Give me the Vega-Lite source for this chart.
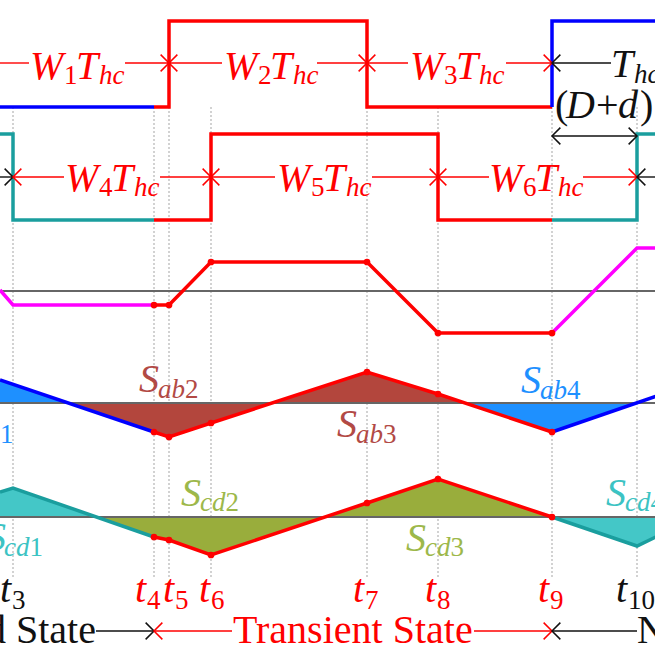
{
  "$schema": "https://vega.github.io/schema/vega-lite/v6.json",
  "width": 655,
  "height": 655,
  "autosize": {"type": "none"},
  "padding": 0,
  "background": "white",
  "config": {"view": {"stroke": null}},
  "datasets": {
    "vlines": [
      {"x": 13, "y": 107, "y2": 578, "c": "dot"},
      {"x": 154, "y": 107, "y2": 578, "c": "dot"},
      {"x": 169, "y": 107, "y2": 578, "c": "dot"},
      {"x": 211, "y": 107, "y2": 578, "c": "dot"},
      {"x": 367, "y": 107, "y2": 578, "c": "dot"},
      {"x": 438, "y": 107, "y2": 578, "c": "dot"},
      {"x": 552, "y": 107, "y2": 578, "c": "dot"},
      {"x": 637, "y": 107, "y2": 578, "c": "dot"}
    ],
    "areas": [
      {"s": "A1", "c": "dodger", "x": 0, "y": 380, "b": 403},
      {"s": "A1", "c": "dodger", "x": 68, "y": 403, "b": 403},
      {"s": "A2", "c": "brownfill", "x": 68, "y": 403, "b": 403},
      {"s": "A2", "c": "brownfill", "x": 154, "y": 432, "b": 403},
      {"s": "A2", "c": "brownfill", "x": 169, "y": 437, "b": 403},
      {"s": "A2", "c": "brownfill", "x": 211, "y": 423, "b": 403},
      {"s": "A2", "c": "brownfill", "x": 272, "y": 403, "b": 403},
      {"s": "A3", "c": "brownfill", "x": 272, "y": 403, "b": 403},
      {"s": "A3", "c": "brownfill", "x": 367, "y": 372, "b": 403},
      {"s": "A3", "c": "brownfill", "x": 438, "y": 394, "b": 403},
      {"s": "A3", "c": "brownfill", "x": 465, "y": 403, "b": 403},
      {"s": "A4", "c": "dodger", "x": 465, "y": 403, "b": 403},
      {"s": "A4", "c": "dodger", "x": 552, "y": 432, "b": 403},
      {"s": "A4", "c": "dodger", "x": 637, "y": 403, "b": 403},
      {"s": "A5", "c": "tealfill", "x": 0, "y": 492, "b": 517},
      {"s": "A5", "c": "tealfill", "x": 13, "y": 488, "b": 517},
      {"s": "A5", "c": "tealfill", "x": 97, "y": 517, "b": 517},
      {"s": "A6", "c": "olivefill", "x": 97, "y": 517, "b": 517},
      {"s": "A6", "c": "olivefill", "x": 154, "y": 537, "b": 517},
      {"s": "A6", "c": "olivefill", "x": 169, "y": 540, "b": 517},
      {"s": "A6", "c": "olivefill", "x": 211, "y": 555, "b": 517},
      {"s": "A6", "c": "olivefill", "x": 325, "y": 517, "b": 517},
      {"s": "A7", "c": "olivefill", "x": 325, "y": 517, "b": 517},
      {"s": "A7", "c": "olivefill", "x": 367, "y": 503, "b": 517},
      {"s": "A7", "c": "olivefill", "x": 438, "y": 479, "b": 517},
      {"s": "A7", "c": "olivefill", "x": 552, "y": 517, "b": 517},
      {"s": "A8", "c": "tealfill", "x": 552, "y": 517, "b": 517},
      {"s": "A8", "c": "tealfill", "x": 637, "y": 546, "b": 517},
      {"s": "A8", "c": "tealfill", "x": 660, "y": 535, "b": 517}
    ],
    "axes": [
      {"x": 0, "x2": 655, "y": 291, "c": "gray"},
      {"x": 0, "x2": 655, "y": 403, "c": "gray"},
      {"x": 0, "x2": 655, "y": 517, "c": "gray"}
    ],
    "lines": [
      {"s": "1a", "c": "blue", "o": 1, "x": 0, "y": 107},
      {"s": "1a", "c": "blue", "o": 2, "x": 154, "y": 107},
      {"s": "1b", "c": "red", "o": 1, "x": 154, "y": 107},
      {"s": "1b", "c": "red", "o": 2, "x": 169, "y": 107},
      {"s": "1b", "c": "red", "o": 3, "x": 169, "y": 21},
      {"s": "1b", "c": "red", "o": 4, "x": 367, "y": 21},
      {"s": "1b", "c": "red", "o": 5, "x": 367, "y": 107},
      {"s": "1b", "c": "red", "o": 6, "x": 552, "y": 107},
      {"s": "1c", "c": "blue", "o": 1, "x": 552, "y": 107},
      {"s": "1c", "c": "blue", "o": 2, "x": 552, "y": 21},
      {"s": "1c", "c": "blue", "o": 3, "x": 660, "y": 21},
      {"s": "2a", "c": "teal", "o": 1, "x": -5, "y": 134},
      {"s": "2a", "c": "teal", "o": 2, "x": 13, "y": 134},
      {"s": "2a", "c": "teal", "o": 3, "x": 13, "y": 220},
      {"s": "2a", "c": "teal", "o": 4, "x": 154, "y": 220},
      {"s": "2b", "c": "red", "o": 1, "x": 154, "y": 220},
      {"s": "2b", "c": "red", "o": 2, "x": 211, "y": 220},
      {"s": "2b", "c": "red", "o": 3, "x": 211, "y": 134},
      {"s": "2b", "c": "red", "o": 4, "x": 438, "y": 134},
      {"s": "2b", "c": "red", "o": 5, "x": 438, "y": 220},
      {"s": "2b", "c": "red", "o": 6, "x": 552, "y": 220},
      {"s": "2c", "c": "teal", "o": 1, "x": 552, "y": 220},
      {"s": "2c", "c": "teal", "o": 2, "x": 637, "y": 220},
      {"s": "2c", "c": "teal", "o": 3, "x": 637, "y": 134},
      {"s": "2c", "c": "teal", "o": 4, "x": 660, "y": 134},
      {"s": "3a", "c": "magenta", "o": 1, "x": 0, "y": 290},
      {"s": "3a", "c": "magenta", "o": 2, "x": 13, "y": 305},
      {"s": "3a", "c": "magenta", "o": 3, "x": 154, "y": 305},
      {"s": "3b", "c": "red", "o": 1, "x": 154, "y": 305},
      {"s": "3b", "c": "red", "o": 2, "x": 169, "y": 305},
      {"s": "3b", "c": "red", "o": 3, "x": 211, "y": 262},
      {"s": "3b", "c": "red", "o": 4, "x": 367, "y": 262},
      {"s": "3b", "c": "red", "o": 5, "x": 438, "y": 333},
      {"s": "3b", "c": "red", "o": 6, "x": 552, "y": 333},
      {"s": "3c", "c": "magenta", "o": 1, "x": 552, "y": 333},
      {"s": "3c", "c": "magenta", "o": 2, "x": 637, "y": 248},
      {"s": "3c", "c": "magenta", "o": 3, "x": 660, "y": 248},
      {"s": "4a", "c": "blue", "o": 1, "x": 0, "y": 380},
      {"s": "4a", "c": "blue", "o": 2, "x": 154, "y": 432},
      {"s": "4b", "c": "red", "o": 1, "x": 154, "y": 432},
      {"s": "4b", "c": "red", "o": 2, "x": 169, "y": 437},
      {"s": "4b", "c": "red", "o": 3, "x": 211, "y": 423},
      {"s": "4b", "c": "red", "o": 4, "x": 367, "y": 372},
      {"s": "4b", "c": "red", "o": 5, "x": 438, "y": 394},
      {"s": "4b", "c": "red", "o": 6, "x": 552, "y": 432},
      {"s": "4c", "c": "blue", "o": 1, "x": 552, "y": 432},
      {"s": "4c", "c": "blue", "o": 2, "x": 660, "y": 395},
      {"s": "5a", "c": "teal", "o": 1, "x": 0, "y": 492},
      {"s": "5a", "c": "teal", "o": 2, "x": 13, "y": 488},
      {"s": "5a", "c": "teal", "o": 3, "x": 154, "y": 537},
      {"s": "5b", "c": "red", "o": 1, "x": 154, "y": 537},
      {"s": "5b", "c": "red", "o": 2, "x": 169, "y": 540},
      {"s": "5b", "c": "red", "o": 3, "x": 211, "y": 555},
      {"s": "5b", "c": "red", "o": 4, "x": 367, "y": 503},
      {"s": "5b", "c": "red", "o": 5, "x": 438, "y": 479},
      {"s": "5b", "c": "red", "o": 6, "x": 552, "y": 517},
      {"s": "5c", "c": "teal", "o": 1, "x": 552, "y": 517},
      {"s": "5c", "c": "teal", "o": 2, "x": 637, "y": 546},
      {"s": "5c", "c": "teal", "o": 3, "x": 660, "y": 535}
    ],
    "dots": [
      {"x": 154, "y": 305, "c": "red"}, {"x": 169, "y": 305, "c": "red"}, {"x": 211, "y": 262, "c": "red"},
      {"x": 367, "y": 262, "c": "red"}, {"x": 438, "y": 333, "c": "red"}, {"x": 552, "y": 333, "c": "red"},
      {"x": 154, "y": 432, "c": "red"}, {"x": 169, "y": 437, "c": "red"}, {"x": 211, "y": 423, "c": "red"},
      {"x": 367, "y": 372, "c": "red"}, {"x": 438, "y": 394, "c": "red"}, {"x": 552, "y": 432, "c": "red"},
      {"x": 154, "y": 537, "c": "red"}, {"x": 169, "y": 540, "c": "red"}, {"x": 211, "y": 555, "c": "red"},
      {"x": 367, "y": 503, "c": "red"}, {"x": 438, "y": 479, "c": "red"}, {"x": 552, "y": 517, "c": "red"}
    ],
    "thin": [
      {"x": 0, "x2": 29, "y": 63, "c": "red"},
      {"x": 125, "x2": 169, "y": 63, "c": "red"},
      {"x": 169, "x2": 222, "y": 63, "c": "red"},
      {"x": 317, "x2": 367, "y": 63, "c": "red"},
      {"x": 367, "x2": 408, "y": 63, "c": "red"},
      {"x": 506, "x2": 552, "y": 63, "c": "red"},
      {"x": 552, "x2": 611, "y": 63, "c": "black"},
      {"x": 0, "x2": 13, "y": 177, "c": "black"},
      {"x": 13, "x2": 64, "y": 177, "c": "red"},
      {"x": 160, "x2": 211, "y": 177, "c": "red"},
      {"x": 211, "x2": 275, "y": 177, "c": "red"},
      {"x": 372, "x2": 438, "y": 177, "c": "red"},
      {"x": 438, "x2": 489, "y": 177, "c": "red"},
      {"x": 583, "x2": 637, "y": 177, "c": "red"},
      {"x": 637, "x2": 655, "y": 177, "c": "black"},
      {"x": 552, "x2": 637, "y": 136, "c": "black"},
      {"x": 96, "x2": 154, "y": 631, "c": "black"},
      {"x": 154, "x2": 232, "y": 631, "c": "red"},
      {"x": 474, "x2": 552, "y": 631, "c": "red"},
      {"x": 552, "x2": 637, "y": 631, "c": "black"}
    ],
    "chevrons": [
      {"x": 169, "y": 63, "c": "red", "d": "r"}, {"x": 169, "y": 63, "c": "red", "d": "l"},
      {"x": 367, "y": 63, "c": "red", "d": "r"}, {"x": 367, "y": 63, "c": "red", "d": "l"},
      {"x": 552, "y": 63, "c": "red", "d": "r"}, {"x": 552, "y": 63, "c": "black", "d": "l"},
      {"x": 13, "y": 177, "c": "black", "d": "r"}, {"x": 13, "y": 177, "c": "red", "d": "l"},
      {"x": 211, "y": 177, "c": "red", "d": "r"}, {"x": 211, "y": 177, "c": "red", "d": "l"},
      {"x": 438, "y": 177, "c": "red", "d": "r"}, {"x": 438, "y": 177, "c": "red", "d": "l"},
      {"x": 637, "y": 177, "c": "red", "d": "r"}, {"x": 637, "y": 177, "c": "black", "d": "l"},
      {"x": 552, "y": 136, "c": "black", "d": "l"}, {"x": 637, "y": 136, "c": "black", "d": "r"},
      {"x": 154, "y": 631, "c": "black", "d": "r"}, {"x": 154, "y": 631, "c": "red", "d": "l"},
      {"x": 552, "y": 631, "c": "red", "d": "r"}, {"x": 552, "y": 631, "c": "black", "d": "l"}
    ],
    "italicMain": [
      {"t": "W", "x": 30, "y": 79, "c": "red"}, {"t": "T", "x": 76, "y": 79, "c": "red"},
      {"t": "W", "x": 224, "y": 79, "c": "red"}, {"t": "T", "x": 270, "y": 79, "c": "red"},
      {"t": "W", "x": 410, "y": 79, "c": "red"}, {"t": "T", "x": 456, "y": 79, "c": "red"},
      {"t": "W", "x": 65, "y": 191, "c": "red"}, {"t": "T", "x": 111, "y": 191, "c": "red"},
      {"t": "W", "x": 277, "y": 191, "c": "red"}, {"t": "T", "x": 323, "y": 191, "c": "red"},
      {"t": "W", "x": 489, "y": 191, "c": "red"}, {"t": "T", "x": 535, "y": 191, "c": "red"},
      {"t": "T", "x": 611, "y": 77, "c": "black"},
      {"t": "D", "x": 566, "y": 118, "c": "black"}, {"t": "d", "x": 618, "y": 118, "c": "black"},
      {"t": "S", "x": 139, "y": 392, "c": "browntext"}, {"t": "S", "x": 337, "y": 437, "c": "browntext"},
      {"t": "S", "x": 521, "y": 393, "c": "dodger"}, {"t": "S", "x": -46, "y": 437, "c": "dodger"},
      {"t": "S", "x": -14, "y": 550, "c": "tealtext"}, {"t": "S", "x": 181, "y": 506, "c": "olivetext"},
      {"t": "S", "x": 406, "y": 551, "c": "olivetext"}, {"t": "S", "x": 606, "y": 506, "c": "tealtext"},
      {"t": "t", "x": 0, "y": 602, "c": "black"}, {"t": "t", "x": 135, "y": 602, "c": "red"},
      {"t": "t", "x": 163, "y": 602, "c": "red"}, {"t": "t", "x": 199, "y": 602, "c": "red"},
      {"t": "t", "x": 353, "y": 602, "c": "red"}, {"t": "t", "x": 425, "y": 602, "c": "red"},
      {"t": "t", "x": 538, "y": 602, "c": "red"}, {"t": "t", "x": 616, "y": 602, "c": "black"}
    ],
    "italicSub": [
      {"t": "hc", "x": 99, "y": 84, "c": "red"}, {"t": "hc", "x": 293, "y": 84, "c": "red"},
      {"t": "hc", "x": 479, "y": 84, "c": "red"}, {"t": "hc", "x": 134, "y": 196, "c": "red"},
      {"t": "hc", "x": 346, "y": 196, "c": "red"}, {"t": "hc", "x": 558, "y": 196, "c": "red"},
      {"t": "hc", "x": 634, "y": 83, "c": "black"},
      {"t": "ab", "x": 158, "y": 398, "c": "browntext"}, {"t": "ab", "x": 356, "y": 443, "c": "browntext"},
      {"t": "ab", "x": 540, "y": 399, "c": "dodger"}, {"t": "ab", "x": -27, "y": 443, "c": "dodger"},
      {"t": "cd", "x": 4, "y": 556, "c": "tealtext"}, {"t": "cd", "x": 200, "y": 511, "c": "olivetext"},
      {"t": "cd", "x": 425, "y": 556, "c": "olivetext"}, {"t": "cd", "x": 625, "y": 511, "c": "tealtext"}
    ],
    "uprightSub": [
      {"t": "1", "x": 64, "y": 84, "c": "red"}, {"t": "2", "x": 258, "y": 84, "c": "red"},
      {"t": "3", "x": 444, "y": 84, "c": "red"}, {"t": "4", "x": 99, "y": 196, "c": "red"},
      {"t": "5", "x": 311, "y": 196, "c": "red"}, {"t": "6", "x": 523, "y": 196, "c": "red"},
      {"t": "2", "x": 185, "y": 398, "c": "browntext"}, {"t": "3", "x": 383, "y": 443, "c": "browntext"},
      {"t": "4", "x": 567, "y": 399, "c": "dodger"}, {"t": "1", "x": 0, "y": 443, "c": "dodger"},
      {"t": "1", "x": 29.5, "y": 556, "c": "tealtext"}, {"t": "2", "x": 225.5, "y": 511, "c": "olivetext"},
      {"t": "3", "x": 450.5, "y": 556, "c": "olivetext"}, {"t": "4", "x": 650.5, "y": 511, "c": "tealtext"},
      {"t": "3", "x": 12, "y": 609, "c": "black"}, {"t": "4", "x": 147, "y": 609, "c": "red"},
      {"t": "5", "x": 175, "y": 609, "c": "red"}, {"t": "6", "x": 211, "y": 609, "c": "red"},
      {"t": "7", "x": 365, "y": 609, "c": "red"}, {"t": "8", "x": 437, "y": 609, "c": "red"},
      {"t": "9", "x": 550, "y": 609, "c": "red"}, {"t": "10", "x": 628, "y": 609, "c": "black"}
    ],
    "uprightMain": [
      {"t": "(", "x": 555, "y": 118, "c": "black"}, {"t": "+", "x": 596, "y": 118, "c": "black"},
      {"t": ")", "x": 640, "y": 118, "c": "black"},
      {"t": "Old State", "x": -54, "y": 643, "c": "black"},
      {"t": "Transient State", "x": 233, "y": 643, "c": "red"},
      {"t": "New State", "x": 637, "y": 643, "c": "black"}
    ]
  },
  "encoding": {
    "x": {"field": "x", "type": "quantitative", "scale": {"domain": [0, 655], "nice": false, "zero": false}, "axis": null},
    "y": {"field": "y", "type": "quantitative", "scale": {"domain": [0, 655], "reverse": true, "nice": false, "zero": false}, "axis": null},
    "color": {
      "field": "c", "type": "nominal", "legend": null,
      "scale": {
        "domain": ["red", "blue", "teal", "magenta", "black", "gray", "brownfill", "olivefill", "dodger", "tealfill", "browntext", "olivetext", "tealtext", "dot"],
        "range": ["#ff0000", "#0000ff", "#1a9e9e", "#ff00ff", "#111111", "#666666", "#b3463d", "#99ad3c", "#1e90ff", "#44c7c7", "#b24a45", "#9db84a", "#3cc3c3", "#b5b5b5"]
      }
    }
  },
  "layer": [
    {
      "data": {"name": "vlines"},
      "mark": {"type": "rule", "strokeWidth": 1.2, "strokeDash": [2, 2]},
      "encoding": {"y2": {"field": "y2"}}
    },
    {
      "data": {"name": "areas"},
      "mark": {"type": "area", "orient": "vertical", "opacity": 1},
      "encoding": {
        "y": {"field": "y", "type": "quantitative", "stack": null},
        "y2": {"field": "b"},
        "detail": {"field": "s"}
      }
    },
    {
      "data": {"name": "axes"},
      "mark": {"type": "rule", "strokeWidth": 2},
      "encoding": {"x2": {"field": "x2"}}
    },
    {
      "data": {"name": "lines"},
      "mark": {"type": "line", "strokeWidth": 3.5, "strokeJoin": "miter", "strokeCap": "butt"},
      "encoding": {"detail": {"field": "s"}, "order": {"field": "o", "type": "quantitative"}}
    },
    {
      "data": {"name": "dots"},
      "mark": {"type": "circle", "size": 45, "opacity": 1}
    },
    {
      "data": {"name": "thin"},
      "mark": {"type": "rule", "strokeWidth": 1.4},
      "encoding": {"x2": {"field": "x2"}}
    },
    {
      "data": {"name": "chevrons"},
      "transform": [{"filter": "datum.d == 'r'"}],
      "mark": {"type": "point", "shape": "M-1,-1L0,0L-1,1", "filled": false, "size": 280, "strokeWidth": 1.5, "opacity": 1}
    },
    {
      "data": {"name": "chevrons"},
      "transform": [{"filter": "datum.d == 'l'"}],
      "mark": {"type": "point", "shape": "M1,-1L0,0L1,1", "filled": false, "size": 280, "strokeWidth": 1.5, "opacity": 1}
    },
    {
      "data": {"name": "italicMain"},
      "mark": {"type": "text", "font": "Liberation Serif", "fontStyle": "italic", "fontSize": 40, "align": "left", "baseline": "alphabetic"},
      "encoding": {"text": {"field": "t"}}
    },
    {
      "data": {"name": "italicSub"},
      "mark": {"type": "text", "font": "Liberation Serif", "fontStyle": "italic", "fontSize": 27, "align": "left", "baseline": "alphabetic"},
      "encoding": {"text": {"field": "t"}}
    },
    {
      "data": {"name": "uprightSub"},
      "mark": {"type": "text", "font": "Liberation Serif", "fontSize": 27, "align": "left", "baseline": "alphabetic"},
      "encoding": {"text": {"field": "t"}}
    },
    {
      "data": {"name": "uprightMain"},
      "mark": {"type": "text", "font": "Liberation Serif", "fontSize": 40, "align": "left", "baseline": "alphabetic"},
      "encoding": {"text": {"field": "t"}}
    }
  ]
}
